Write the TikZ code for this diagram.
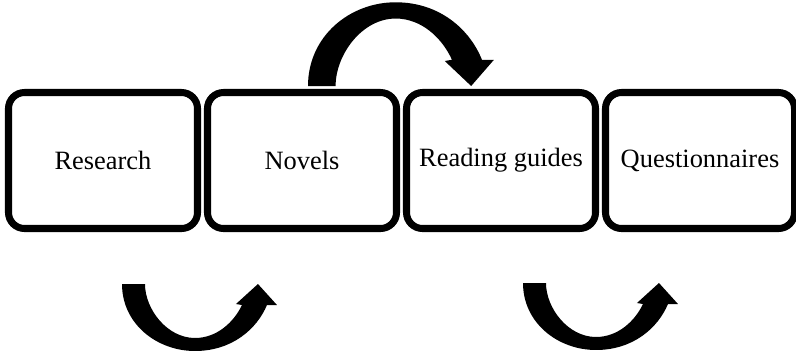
\documentclass[tikz,border=0pt]{standalone}
\usepackage{fontspec}
\setmainfont{Liberation Serif}
\usetikzlibrary{positioning}

\begin{document}
\begin{tikzpicture}[
    node distance=0.25cm,
    stage/.style={rectangle, draw, line width=5pt, outer sep=0pt, rounded corners=0.4cm, minimum width=4.725cm, minimum height=3.4cm, align=center, font=\fontsize{18.8}{22}\selectfont},
    turn/.pic={
        \fill[x=0.025cm, y=0.025cm] (0,0) .. controls (0,-40) and (35,-67) .. (73,-67)
            .. controls (110,-67) and (135,-45) .. (145,-21)
            -- (155,-21) -- (136,0) -- (114,-20) -- (120,-21)
            .. controls (112,-38) and (95,-54) .. (73,-54)
            .. controls (45,-54) and (23,-25) .. (23,0) -- cycle;
    }
]
    \useasboundingbox (0,0) rectangle (19.9,-9.05);

    % Stages
    \node[stage] (research) at (2.575,-4.0125) {Research};
    \node[stage, right=of research] (novels) {Novels};
    \node[stage, right=of novels] (guides) {Reading guides};
    \node[stage, right=of guides] (survey) {Questionnaires};

    % Turn arrows
    \pic[xscale=1.2, yscale=-1.25] at ([shift={(0.15,0.1625)}]novels.north) {turn};
    \pic at ([shift={(0.475,-1.3875)}]research.south) {turn};
    \pic at ([shift={(0.55,-1.3625)}]guides.south) {turn};
\end{tikzpicture}
\end{document}
